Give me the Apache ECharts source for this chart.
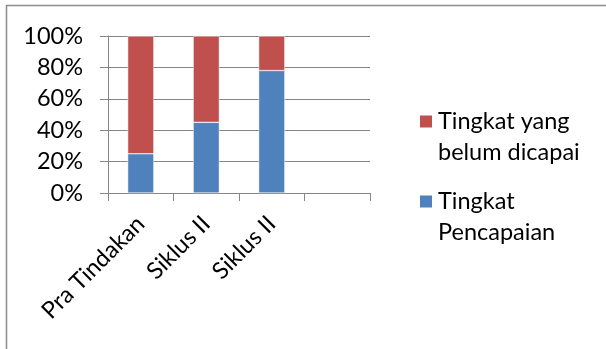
<!DOCTYPE html>
<html>
<head>
<meta charset="utf-8">
<script src="https://cdn.jsdelivr.net/npm/echarts@6/dist/echarts.min.js"></script>
<style>
html,body{margin:0;padding:0;background:#fff;}
#c{width:606px;height:349px;}
</style>
</head>
<body>
<div id="c"></div>
<script>
var categories = ['Pra Tindakan', 'Siklus II', 'Siklus II', ''];
var pencapaian = [25, 45, 78, null];
var belumDicapai = [75, 55, 22, null];
var yTicks = ['0%', '20%', '40%', '60%', '80%', '100%'];
var seriesNames = ['Tingkat yang\nbelum dicapai', 'Tingkat\nPencapaian'];

var FONT = 'Lato';
var chart = echarts.init(document.getElementById('c'), null, {renderer: 'canvas'});
chart.setOption({
  animation: false,
  backgroundColor: '#ffffff',
  graphic: [{
    type: 'rect', silent: true,
    shape: {x: 6.5, y: 5.5, width: 700, height: 400},
    style: {fill: 'none', stroke: '#8c8c8c', lineWidth: 1.5}
  }],
  grid: {left: 108, right: 236, top: 36, bottom: 156},
  legend: {
    orient: 'vertical',
    left: 413, top: 101,
    itemWidth: 14, itemHeight: 45,
    itemGap: 18,
    icon: 'path://M0,0h14v14h-14zM0,45h0.01v0.01h-0.01z',
    data: [seriesNames[0], seriesNames[1]],
    textStyle: {fontFamily: FONT, fontSize: 23.5, color: '#000', lineHeight: 31}
  },
  xAxis: {
    type: 'category',
    data: categories,
    axisLine: {show: true, lineStyle: {color: '#868686', width: 1}},
    axisTick: {show: true, length: 8, lineStyle: {color: '#868686'}},
    axisLabel: {rotate: 45, interval: 0, margin: 27, fontFamily: FONT, fontSize: 23.5, color: '#000'}
  },
  yAxis: {
    type: 'value',
    min: 0, max: 100, interval: 20,
    axisLine: {show: true, lineStyle: {color: '#868686', width: 1}},
    axisTick: {show: true, length: 8, lineStyle: {color: '#868686'}},
    splitLine: {lineStyle: {color: '#868686', width: 1}},
    axisLabel: {
      margin: 25, fontFamily: FONT, fontSize: 23.5, color: '#000',
      formatter: function (v) { return yTicks[Math.round(v / 20)]; }
    }
  },
  series: [{
    name: seriesNames[1], type: 'bar', stack: 'a', data: pencapaian,
    barWidth: '40%',
    itemStyle: {color: '#4F81BD', borderColor: '#ffffff', borderWidth: 0.5}
  }, {
    name: seriesNames[0], type: 'bar', stack: 'a', data: belumDicapai,
    barWidth: '40%',
    itemStyle: {color: '#C0504D', borderColor: '#ffffff', borderWidth: 0.5}
  }]
});
</script>
</body>
</html>
